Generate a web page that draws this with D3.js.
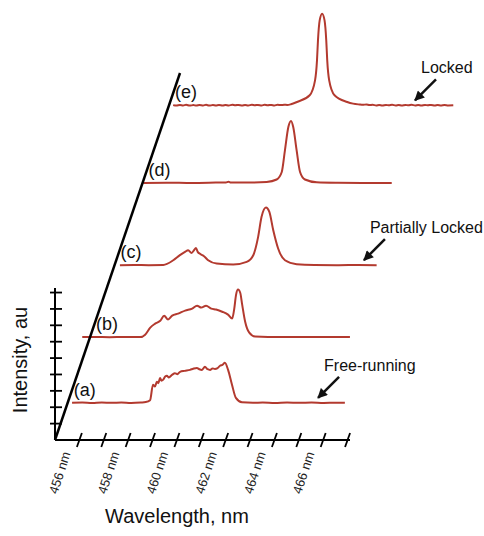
<!DOCTYPE html>
<html>
<head>
<meta charset="utf-8">
<script src="https://cdn.jsdelivr.net/npm/d3@7"></script>
<style>
  body { margin: 0; background: #fff; }
  text { font-family: "Liberation Sans", Arial, sans-serif; }
</style>
</head>
<body>
<div id="chart"></div>
<script>
// spectra, [wavelength nm, intensity au]
var traceLabels = ["(a)", "(b)", "(c)", "(d)", "(e)"];
var traceOffsets = [2.27, 6.28, 10.67, 15.69, 20.43];

var spectrumA = [[455.18,0],[455.6,0.02],[456.0,-0.01],[456.4,0.02],[456.8,0],[457.2,0.02],[457.6,-0.01],[458.0,0.02],[458.2,0.05],[458.38,0.16],[458.5,1.1],[458.58,1.0],[458.66,1.28],[458.72,1.2],[458.79,1.52],[458.85,1.35],[458.91,1.4],[459.0,1.6],[459.07,1.65],[459.15,1.55],[459.28,1.7],[459.4,1.8],[459.5,1.75],[459.61,1.89],[459.8,1.95],[460.02,2.01],[460.15,2.08],[460.3,2.13],[460.4,2.05],[460.51,2.01],[460.63,2.2],[460.74,2.05],[460.84,2.01],[460.94,2.1],[461.04,2.07],[461.15,2.12],[461.25,2.26],[461.35,2.32],[461.45,2.44],[461.58,2.01],[461.74,1.1],[461.9,0.3],[462.15,0.03],[462.6,0],[463.0,0.02],[463.5,-0.01],[464.0,0.02],[464.5,0],[465.0,0.02],[465.5,-0.01],[466.0,0.01],[466.37,0]];

var spectrumB = [[454.68,0],[455.2,0.01],[455.8,-0.01],[456.4,0.01],[457.05,0],[457.26,0.15],[457.47,0.58],[457.67,0.82],[457.88,1.0],[458.04,1.31],[458.2,1.07],[458.37,1.31],[458.61,1.43],[458.9,1.62],[459.19,1.74],[459.39,1.92],[459.56,1.8],[459.76,1.92],[459.97,1.74],[460.17,1.68],[460.42,1.55],[460.66,1.37],[460.83,1.13],[460.91,1.68],[460.99,2.59],[461.07,2.9],[461.16,2.71],[461.24,1.98],[461.36,0.95],[461.53,0.27],[461.77,0.03],[462.3,0],[463.0,0.01],[464.0,0],[465.0,0.01],[465.66,0]];

var spectrumC = [[455.22,0],[455.8,0.01],[456.4,0],[457.0,0.01],[457.41,0.3],[457.68,0.61],[457.89,0.81],[458.02,0.91],[458.16,0.75],[458.26,0.91],[458.34,1.05],[458.41,0.81],[458.53,0.67],[458.67,0.55],[458.84,0.3],[459.19,0.1],[459.87,0.04],[460.42,0.2],[460.69,0.61],[460.89,1.73],[461.03,2.95],[461.21,3.52],[461.35,3.25],[461.51,2.13],[461.71,1.02],[461.99,0.3],[462.47,0.06],[463.2,0.01],[464.2,0],[465.0,0.01],[465.75,0]];

var spectrumD = [[455.03,0],[456.0,0.01],[457.0,0],[458.0,0.02],[458.42,0.03],[458.52,0.08],[458.62,0.03],[459.3,0.02],[460.09,0.06],[460.5,0.21],[460.71,0.67],[460.84,1.99],[460.98,3.41],[461.09,3.78],[461.18,3.41],[461.32,1.99],[461.46,0.67],[461.66,0.21],[462.14,0.04],[463.0,0.01],[464.0,0],[465.22,0]];

var spectrumE = [[455.17,0.01],[455.3,-0.02],[455.45,0.02],[455.58,-0.01],[455.7,0.03],[455.85,-0.02],[456.0,0.01],[456.12,-0.02],[456.25,0.02],[456.4,-0.01],[456.52,0.03],[456.65,-0.02],[456.8,0.01],[456.92,-0.01],[457.05,0.02],[457.2,-0.02],[457.32,0.02],[457.45,-0.01],[457.6,0.03],[457.72,0.0],[457.85,0.02],[458.0,-0.02],[458.12,0.02],[458.25,-0.01],[458.4,0.03],[458.52,0.0],[458.65,0.02],[458.8,-0.01],[458.92,0.03],[459.05,0.0],[459.2,0.02],[459.32,-0.01],[459.45,0.03],[459.6,0.01],[459.72,0.03],[459.85,0.02],[460.0,0.06],[460.25,0.2],[460.77,0.61],[460.99,1.52],[461.07,2.74],[461.11,3.96],[461.18,5.18],[461.28,5.59],[461.38,5.18],[461.45,3.96],[461.49,2.74],[461.57,1.52],[461.79,0.61],[462.31,0.2],[462.55,0.1],[462.8,0.05],[462.95,0.03],[463.1,0.05],[463.22,0.01],[463.35,0.03],[463.5,-0.01],[463.62,0.02],[463.75,-0.02],[463.9,0.02],[464.02,0.0],[464.15,0.03],[464.3,-0.01],[464.42,0.02],[464.55,-0.02],[464.7,0.02],[464.82,0.0],[464.95,0.03],[465.1,-0.01],[465.22,0.02],[465.35,-0.02],[465.5,0.02],[465.62,0.0],[465.75,0.02],[465.9,-0.02],[466.02,0.02],[466.15,-0.01],[466.3,0.02],[466.45,-0.01],[466.66,0.0]];

var spectra = [spectrumA, spectrumB, spectrumC, spectrumD, spectrumE];

var wavelengthTicks = [456, 457, 458, 459, 460, 461, 462, 463, 464, 465, 466, 467];
var wavelengthLabels = [456, 458, 460, 462, 464, 466];
var intensityTicks = [1, 2, 3, 4, 5, 6, 7, 8, 9];

var noteTexts = ["Free-running", "Partially Locked", "Locked"];
var noteTrace = [0, 2, 4];
var noteWavelength = [465.27, 465.23, 465.09];

var width = 484, height = 536;
var origin = { x: 55, y: 440 };

var svg = d3.select("#chart")
  .append("svg")
    .attr("width", width)
    .attr("height", height);

var x = d3.scaleLinear().domain([455, 467.1]).range([origin.x, 350]);
var y = d3.scaleLinear().domain([0, 22.4]).range([origin.y, 73]);
// horizontal shift of the slanted (depth) axis
var shift = d3.scaleLinear().domain([0, 22.4]).range([0, 125]);

var red = "#b33a2f";

// arrow head
svg.append("defs").append("marker")
  .attr("id", "head")
  .attr("viewBox", "0 0 10 10")
  .attr("refX", 9).attr("refY", 5)
  .attr("markerWidth", 11).attr("markerHeight", 10)
  .attr("markerUnits", "userSpaceOnUse")
  .attr("orient", "auto")
  .append("path")
    .attr("d", "M0,0 L10,5 L0,10 Z")
    .attr("fill", "#111");

// spectra
var line = function(off) {
  return d3.line()
    .curve(d3.curveMonotoneX)
    .x(function(d) { return x(d[0]) + shift(off); })
    .y(function(d) { return y(off + d[1]); });
};

svg.selectAll(".trace")
  .data(spectra)
  .enter()
  .append("path")
    .attr("class", "trace")
    .attr("d", function(d, i) { return line(traceOffsets[i])(d); })
    .attr("fill", "none")
    .attr("stroke", red)
    .attr("stroke-width", 2)
    .attr("stroke-linejoin", "round");

// trace labels next to the slanted axis
svg.selectAll(".tlabel")
  .data(traceLabels)
  .enter()
  .append("text")
    .attr("class", "tlabel")
    .attr("x", function(d, i) { return x(455) + shift(traceOffsets[i]) + 6; })
    .attr("y", function(d, i) { return y(traceOffsets[i]) - 7; })
    .attr("font-size", 18)
    .attr("fill", "#111")
    .text(function(d) { return d; });

// wavelength axis
svg.append("line")
  .attr("x1", origin.x).attr("y1", origin.y)
  .attr("x2", x(467.1)).attr("y2", origin.y)
  .attr("stroke", "#000").attr("stroke-width", 2);

svg.selectAll(".xtick")
  .data(wavelengthTicks)
  .enter()
  .append("line")
    .attr("class", "xtick")
    .attr("x1", function(d) { return x(d) - 2.5; })
    .attr("y1", origin.y + 7)
    .attr("x2", function(d) { return x(d) + 2.5; })
    .attr("y2", origin.y - 7)
    .attr("stroke", "#000").attr("stroke-width", 1.8);

svg.selectAll(".xlabel")
  .data(wavelengthLabels)
  .enter()
  .append("text")
    .attr("class", "xlabel")
    .attr("transform", function(d) {
      return "translate(" + (x(d) - 13) + "," + (origin.y + 12) + ")rotate(-72)";
    })
    .attr("text-anchor", "end")
    .attr("dy", "0.35em")
    .attr("font-size", 13)
    .attr("fill", "#222")
    .text(function(d) { return d + " nm"; });

// intensity axis
svg.append("line")
  .attr("x1", origin.x).attr("y1", origin.y)
  .attr("x2", origin.x).attr("y2", y(9.27))
  .attr("stroke", "#000").attr("stroke-width", 2);

svg.selectAll(".ytick")
  .data(intensityTicks)
  .enter()
  .append("line")
    .attr("class", "ytick")
    .attr("x1", origin.x - 5).attr("x2", origin.x + 7)
    .attr("y1", function(d) { return y(d); })
    .attr("y2", function(d) { return y(d); })
    .attr("stroke", "#000").attr("stroke-width", 1.8);

// slanted depth axis
svg.append("line")
  .attr("x1", origin.x).attr("y1", origin.y)
  .attr("x2", origin.x + shift(22.4)).attr("y2", y(22.4))
  .attr("stroke", "#000").attr("stroke-width", 2.5);

// axis titles
svg.append("text")
  .attr("x", 177).attr("y", 523)
  .attr("text-anchor", "middle")
  .attr("font-size", 20)
  .attr("fill", "#111")
  .text("Wavelength, nm");

svg.append("text")
  .attr("transform", "translate(27,360)rotate(-90)")
  .attr("text-anchor", "middle")
  .attr("font-size", 20)
  .attr("fill", "#111")
  .text("Intensity, au");

// annotations with arrows
noteTexts.forEach(function(t, i) {
  var off = traceOffsets[noteTrace[i]];
  var tx = x(noteWavelength[i]) + shift(off);
  var ty = y(off) - 5;
  svg.append("line")
    .attr("x1", tx + 21).attr("y1", ty - 21)
    .attr("x2", tx).attr("y2", ty)
    .attr("stroke", "#111").attr("stroke-width", 2.5)
    .attr("marker-end", "url(#head)");
  svg.append("text")
    .attr("x", tx + 6).attr("y", ty - 27)
    .attr("font-size", 16)
    .attr("fill", "#111")
    .text(t);
});
</script>
</body>
</html>
